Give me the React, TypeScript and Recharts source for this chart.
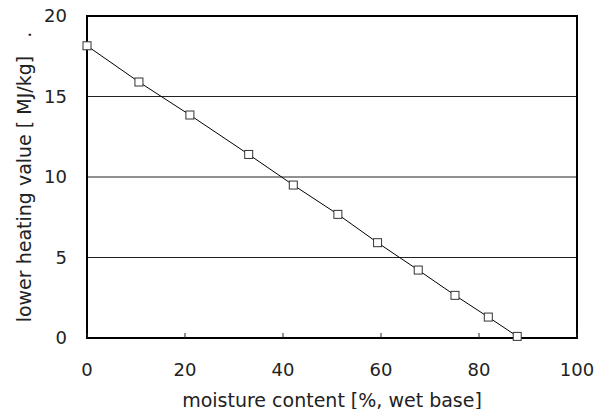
import React from 'react';
import { LineChart, Line, XAxis, YAxis, CartesianGrid, ReferenceArea } from 'recharts';

const moisture = [0, 10.6, 21.0, 33.0, 42.1, 51.2, 59.3, 67.6, 75.1, 81.9, 87.8];
const lhv = [18.15, 15.9, 13.85, 11.4, 9.5, 7.68, 5.92, 4.22, 2.65, 1.3, 0.1];
const xTicks = [0, 20, 40, 60, 80, 100];
const yTicks = [0, 5, 10, 15, 20];
const xTitle = 'moisture content [%, wet base]';
const yTitle = 'lower heating value [ MJ/kg]\u00a0\u00a0\u00a0.';

const data = moisture.map((m, i) => ({ m, v: lhv[i] }));

const FONT = '"DejaVu Sans", sans-serif';

const SquareDot = (props: any) => {
  const { cx, cy } = props;
  if (cx == null || cy == null) return null;
  return <rect x={cx - 4} y={cy - 4} width={8} height={8} fill="#fff" stroke="#333" strokeWidth={1} />;
};

const YLabel = (props: any) => {
  const vb = props.viewBox || {};
  const cy = (vb.y ?? 16) + (vb.height ?? 322) / 2;
  const x = 31;
  return (
    <text x={x} y={cy} transform={`rotate(-90 ${x} ${cy})`} textAnchor="middle" fontFamily={FONT} fontSize={19} fill="#222">
      {yTitle}
    </text>
  );
};

export default function App() {
  return (
    <div style={{ position: 'absolute', left: 0, top: 0 }}>
      <LineChart width={606} height={409} data={data} margin={{ top: 16, right: 29, left: 0, bottom: 0 }}>
        <CartesianGrid vertical={false} stroke="#222" strokeWidth={1} />
        <XAxis
          dataKey="m"
          type="number"
          domain={[0, 100]}
          ticks={xTicks}
          height={71}
          axisLine={false}
          tickSize={-5}
          tickMargin={30}
          tickLine={{ stroke: '#222' }}
          tick={{ fontFamily: FONT, fontSize: 18, fill: '#222' }}
          label={{ value: xTitle, position: 'insideBottom', offset: 2.5, fontFamily: FONT, fontSize: 19, fill: '#222' }}
        />
        <YAxis
          type="number"
          domain={[0, 20]}
          ticks={yTicks}
          width={87}
          axisLine={false}
          tickLine={false}
          tickSize={0}
          tickMargin={20}
          tick={{ fontFamily: FONT, fontSize: 18, fill: '#222' }}
          label={{ content: YLabel }}
        />
        <ReferenceArea x1={0} x2={100} y1={0} y2={20} fill="none" fillOpacity={0} stroke="#000" strokeWidth={2} ifOverflow="visible" />
        <Line dataKey="v" stroke="#000" strokeWidth={1} dot={<SquareDot />} activeDot={false} isAnimationActive={false} />
      </LineChart>
    </div>
  );
}
